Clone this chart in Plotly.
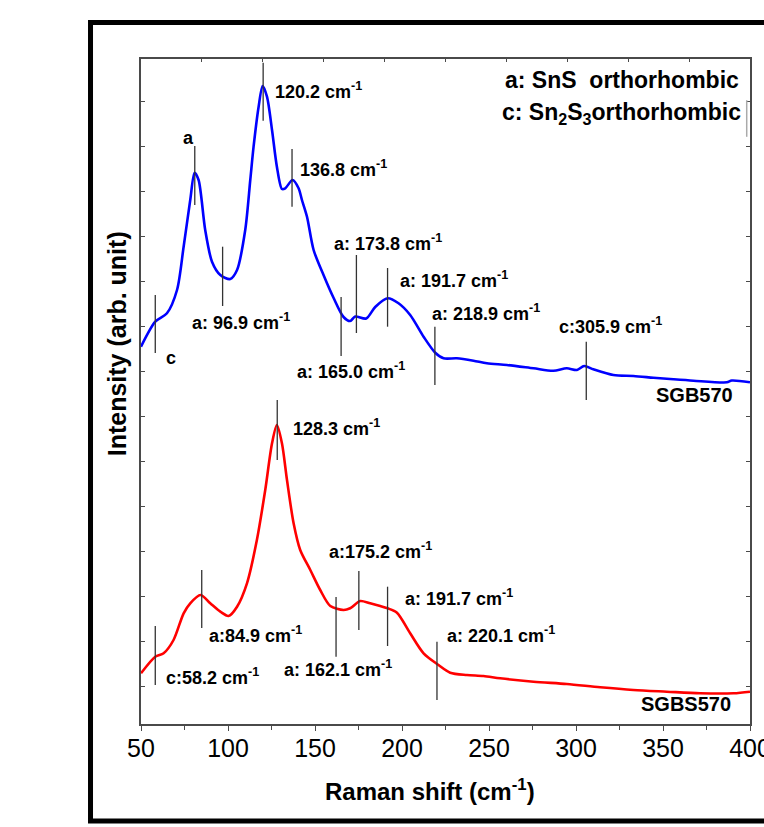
import plotly.graph_objects as go

# ---------------- data ----------------
blue_x = [50, 58.2, 64.9, 70.7, 74.5, 78.3, 80.8, 83.1, 86.9, 90.8, 95.6, 101.3, 105.2, 109.9,
          112.8, 114.7, 117.6, 119.9, 122.4, 125.3, 128.1, 131.0, 132.9, 137.1, 140.5, 142.5,
          145.4, 149.2, 154.9, 160.7, 166.4, 170.2, 173.1, 179.4, 184.6, 191.7, 198.0, 204.7,
          212.4, 219.1, 223.9, 231.5, 241.1, 248.8, 260.3, 275.6, 287.0, 294.7, 300.5, 304.7,
          310.0, 321.5, 333.0, 344.5, 356.0, 367.5, 386.7, 389.5, 400]
blue_y = [377.3, 402.3, 410.7, 434, 477.3, 524, 551.3, 544, 494, 462.3, 449, 445, 454, 494,
          544, 577.3, 617.3, 638, 627.3, 594, 557.3, 535, 535.7, 544, 536, 524,
          507.3, 474, 449, 426, 407, 403, 407.5, 405.5, 417, 425.7, 420.7, 409,
          387.3, 371.3, 365.7, 365.7, 363.3, 360.7, 359, 355.7, 353.3, 355.7, 354.0, 358,
          354.7, 349, 348, 346.3, 344.7, 343.3, 341.7, 343.5, 341.7]

red_x = [50, 58.2, 63.0, 68.7, 74.5, 78.3, 84.2, 89.8, 95.6, 100.3, 105.2, 110.9, 116.6, 121.4,
         125.3, 128.1, 131.0, 133.9, 137.7, 141.5, 147.3, 153.0, 158.8, 166.4, 170.2, 176.0,
         181.7, 187.5, 191.7, 197.1, 204.7, 212.4, 221.0, 227.7, 237.3, 246.8, 256.4, 275.6,
         294.7, 313.9, 333.0, 352.2, 371.3, 390.5, 400]
red_y = [50.7, 67.3, 70.7, 84, 110.7, 120.7, 129, 120.7, 112.3, 108, 117.3, 140.7, 184, 234,
         280.7, 299, 280.7, 244, 200.7, 174, 154, 134, 118, 114, 115.7, 123,
         120.7, 118, 115.7, 111.3, 90.7, 70.7, 59, 51.3, 49, 48, 45.7, 42.3,
         40, 36.7, 34, 32.3, 30.7, 30.7, 32.3]

# peak marker positions (wavenumber) with vertical extent of each tick mark
blue_peaks = [58.2, 80.9, 96.9, 120.2, 136.8, 165.0, 173.8, 191.7, 218.9, 305.9]
blue_peak_lo = [371, 519, 418, 603.3, 517.3, 368, 391, 397.3, 339, 324]
blue_peak_hi = [429, 578, 477.3, 661.3, 575, 427, 469, 456, 397.3, 382.3]

red_peaks = [58.2, 84.9, 128.3, 162.1, 175.2, 191.7, 220.1]
red_peak_lo = [39, 96, 264, 67.3, 94, 78, 24]
red_peak_hi = [98, 154, 324, 127, 153, 137.3, 82.3]

# peak labels: text, x, y
blue_labels = ["c", "a", "120.2 cm<sup>-1</sup>", "136.8 cm<sup>-1</sup>", "a: 96.9 cm<sup>-1</sup>",
               "a: 165.0 cm<sup>-1</sup>", "a: 173.8 cm<sup>-1</sup>", "a: 191.7 cm<sup>-1</sup>",
               "a: 218.9 cm<sup>-1</sup>", "c:305.9 cm<sup>-1</sup>"]
blue_label_x = [63.0, 73.0, 126.0, 140.4, 78.3, 138.6, 159.7, 197.6, 216.2, 289.0]
blue_label_y = [366, 586, 634, 556, 403, 354, 482, 445, 412, 398.5]

red_labels = ["c:58.2 cm<sup>-1</sup>", "a:84.9 cm<sup>-1</sup>", "128.3 cm<sup>-1</sup>",
              "a: 162.1 cm<sup>-1</sup>", "a:175.2 cm<sup>-1</sup>", "a: 191.7 cm<sup>-1</sup>",
              "a: 220.1 cm<sup>-1</sup>"]
red_label_x = [63.0, 87.9, 136.3, 131.0, 156.9, 200.5, 224.8]
red_label_y = [48, 89.3, 297, 56, 173.3, 126.5, 89.3]

sample_names = ["SGB570", "SGBS570"]
sample_x = [391.5, 390.5]
sample_y = [329, 20]

phase_legend = ["a: SnS  orthorhombic", "c: Sn<sub>2</sub>S<sub>3</sub>orthorhombic"]
phase_x = [258.2, 256.4]
phase_y = [644, 611]

x_ticks = [50, 100, 150, 200, 250, 300, 350, 400]
x_minor = [75, 125, 175, 225, 275, 325, 375]
top_ticks = [85, 120, 155, 190, 225, 260, 295, 330, 365]
y_ticks = [37.3 + 45 * k for k in range(14)]

# ---------------- figure ----------------
AX = "#4a4a4a"
LBL = "Liberation Sans, Arial, sans-serif"

fig = go.Figure()
fig.add_trace(go.Scatter(x=blue_x, y=blue_y, mode="lines",
                         line=dict(color="#0000FF", width=2.6, shape="spline", smoothing=0.8),
                         hoverinfo="skip"))
fig.add_trace(go.Scatter(x=red_x, y=red_y, mode="lines",
                         line=dict(color="#FF0000", width=2.6, shape="spline", smoothing=0.8),
                         hoverinfo="skip"))
fig.add_trace(go.Scatter(x=[50], y=[0], xaxis="x2", mode="markers",
                         marker=dict(opacity=0), hoverinfo="skip"))

shapes = []
for px, lo, hi in zip(blue_peaks + red_peaks, blue_peak_lo + red_peak_lo, blue_peak_hi + red_peak_hi):
    shapes.append(dict(type="line", xref="x", yref="y", x0=px, x1=px, y0=lo, y1=hi,
                       line=dict(color="#333333", width=1.3)))
# outer frame
shapes.append(dict(type="rect", xref="paper", yref="paper", x0=-0.0829, x1=1.06,
                   y0=-0.1459, y1=1.0549, line=dict(color="black", width=5)))
# small grey cursor mark near legend
shapes.append(dict(type="line", xref="paper", yref="paper", x0=0.9946, x1=0.9946,
                   y0=0.883, y1=0.938, line=dict(color="#aaaaaa", width=1.5)))

ann = []
for t, x, y in zip(blue_labels + red_labels, blue_label_x + red_label_x, blue_label_y + red_label_y):
    ann.append(dict(text=t, x=x, y=y, xref="x", yref="y", xanchor="left", yanchor="middle",
                    showarrow=False, font=dict(family=LBL, size=18, color="black", weight="bold")))
for t, x, y in zip(sample_names, sample_x, sample_y):
    ann.append(dict(text=t, x=x, y=y, xref="x", yref="y", xanchor="right", yanchor="middle",
                    showarrow=False, font=dict(family=LBL, size=20, color="black", weight="bold")))
for t, x, y in zip(phase_legend, phase_x, phase_y):
    ann.append(dict(text=t, x=x, y=y, xref="x", yref="y", xanchor="left", yanchor="middle",
                    showarrow=False, font=dict(family=LBL, size=23, color="black", weight="bold")))
ann.append(dict(text="Raman shift (cm<sup>-1</sup>)", x=0.4745, y=-0.0992, xref="paper", yref="paper",
                xanchor="center", yanchor="middle", showarrow=False,
                font=dict(family=LBL, size=24, color="black", weight="bold")))
ann.append(dict(text="Intensity (arb. unit)", x=-0.0394, y=0.571, xref="paper", yref="paper",
                xanchor="center", yanchor="middle", textangle=-90, showarrow=False,
                font=dict(family=LBL, size=25, color="black", weight="bold")))

fig.update_layout(
    width=764, height=827,
    margin=dict(l=141, r=14, t=59, b=103, autoexpand=False),
    plot_bgcolor="white", paper_bgcolor="white",
    showlegend=False,
    shapes=shapes, annotations=ann,
    xaxis=dict(range=[50, 400], tickvals=x_ticks, ticks="outside", ticklen=5, tickwidth=1.3,
               tickcolor=AX, showline=True, linecolor=AX, linewidth=1.5, showgrid=False,
               zeroline=False, automargin=False, ticklabeloverflow="allow",
               ticklabelstandoff=-4,
               tickfont=dict(family=LBL, size=25, color="black"),
               minor=dict(tickvals=x_minor, ticks="outside", ticklen=4, tickcolor=AX, tickwidth=1.2)),
    xaxis2=dict(range=[50, 400], overlaying="x", side="top", tickvals=top_ticks, ticks="inside",
                ticklen=3, tickcolor=AX, showticklabels=False, showline=True, linecolor=AX,
                linewidth=1.5, showgrid=False, zeroline=False, automargin=False),
    yaxis=dict(range=[0, 665], tickvals=y_ticks, ticks="inside", ticklen=4, tickcolor=AX,
               showticklabels=False, showline=True, linecolor=AX, linewidth=1.5, mirror="ticks",
               showgrid=False, zeroline=False, automargin=False),
)

fig.write_html("out.html", config={"displayModeBar": False},
               post_script="document.body.style.margin='0px';document.body.style.overflow='hidden';")
